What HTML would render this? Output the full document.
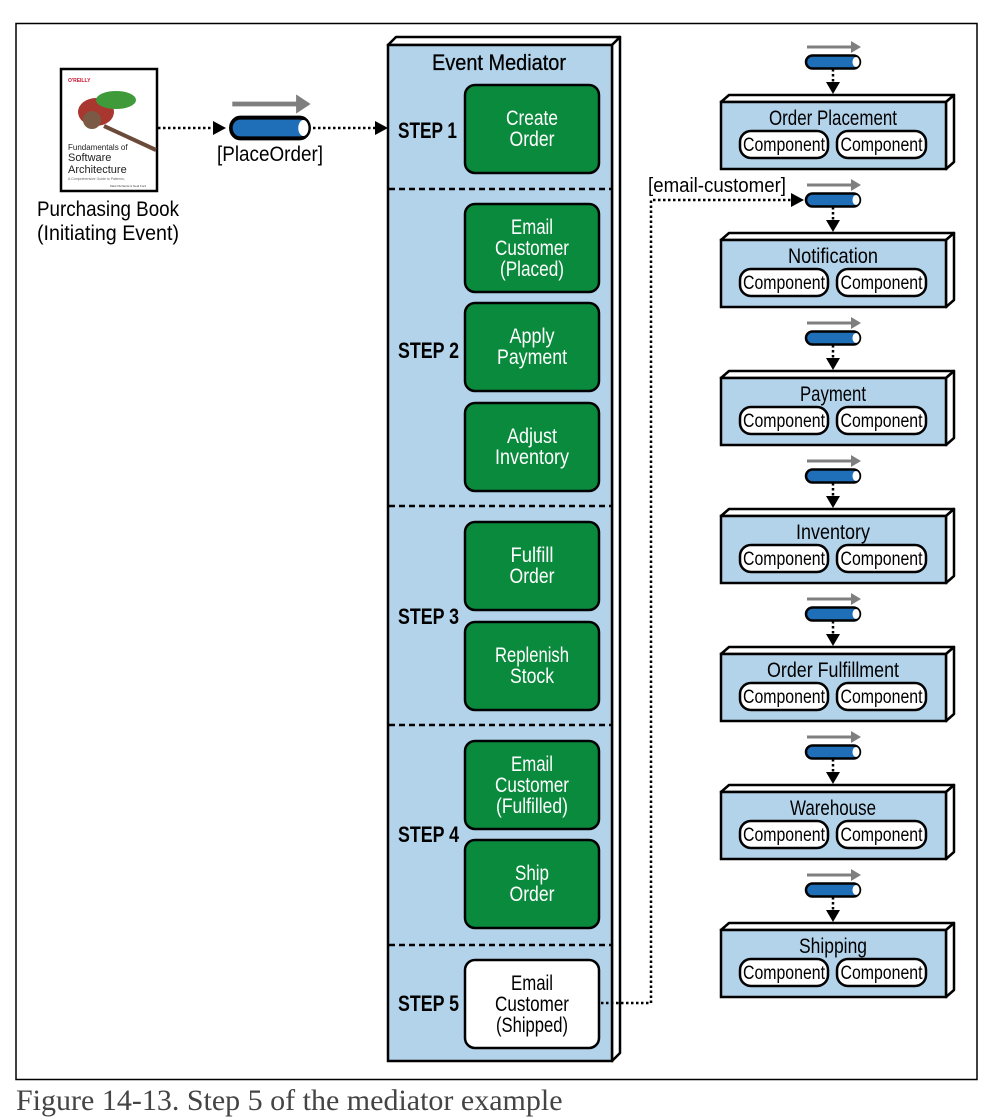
<!DOCTYPE html>
<html><head><meta charset="utf-8"><style>
html,body{margin:0;padding:0;background:#fff;overflow:hidden;width:987px;height:1094px}
svg{display:block}
text{font-family:"Liberation Sans",sans-serif}
</style></head><body>
<svg width="987" height="1094" viewBox="0 0 987 1094" xmlns="http://www.w3.org/2000/svg">
<defs>
<g id="q">
<line x1="-26" y1="-15" x2="20" y2="-15" stroke="#7f7f7f" stroke-width="3"/>
<polygon points="18,-21 28,-15 18,-9" fill="#7f7f7f"/>
<rect x="-27" y="-6.5" width="54" height="13" rx="6.5" fill="#1f6fb8" stroke="#000" stroke-width="2.5"/>
<ellipse cx="23" cy="0" rx="3.5" ry="5" fill="#fff"/>
</g>
</defs>
<rect x="16" y="23.5" width="961" height="1056" fill="none" stroke="#000" stroke-width="1.5"/>

<!-- book -->
<rect x="61" y="69" width="96" height="122" fill="#fff" stroke="#000" stroke-width="2.5"/>
<text x="68" y="82" font-size="5" fill="#c8102e" font-weight="bold">O'REILLY</text>
<ellipse cx="96" cy="112" rx="18" ry="14" fill="#a8372f"/>
<ellipse cx="116" cy="100" rx="20" ry="9" fill="#3f9b3a"/>
<ellipse cx="92" cy="120" rx="9" ry="9" fill="#7a5a44"/>
<line x1="104" y1="126" x2="156" y2="150" stroke="#6b4a3a" stroke-width="4"/>
<text x="68" y="150" font-size="8" fill="#222">Fundamentals of</text>
<text x="68" y="161" font-size="11" fill="#222">Software</text>
<text x="68" y="173" font-size="11" fill="#222">Architecture</text>
<text x="68" y="180" font-size="3.5" fill="#666">A Comprehensive Guide to Patterns,</text>
<text x="110" y="187" font-size="3" fill="#444">Mark Richards &amp; Neal Ford</text>
<text x="108" y="216" font-size="21" text-anchor="middle" textLength="142" lengthAdjust="spacingAndGlyphs">Purchasing Book</text>
<text x="108" y="240" font-size="21" text-anchor="middle" textLength="142" lengthAdjust="spacingAndGlyphs">(Initiating Event)</text>

<line x1="158" y1="128" x2="214" y2="128" stroke="#000" stroke-width="2.5" stroke-dasharray="2.5,2.5"/>
<polygon points="213,121 226,128 213,135" fill="#000"/>
<use href="#q" transform="translate(270 128) scale(1.45 1.6)"/>
<line x1="313" y1="128" x2="376" y2="128" stroke="#000" stroke-width="2.5" stroke-dasharray="2.5,2.5"/>
<polygon points="375,121 388,128 375,135" fill="#000"/>
<text x="270" y="161" font-size="21" text-anchor="middle" textLength="106" lengthAdjust="spacingAndGlyphs">[PlaceOrder]</text>

<!-- mediator -->
<polygon points="388,45 396,37 620,37 612,45" fill="#fff" stroke="#000" stroke-width="2.5" stroke-linejoin="round"/>
<polygon points="612,45 620,37 620,1053 612,1061" fill="#fff" stroke="#000" stroke-width="2.5" stroke-linejoin="round"/>
<rect x="388" y="45" width="224" height="1016" fill="#b3d3ea" stroke="#000" stroke-width="2.5"/>
<text x="499" y="70" font-size="22" text-anchor="middle" textLength="134" lengthAdjust="spacingAndGlyphs" stroke="#000" stroke-width="0.3">Event Mediator</text>
<g stroke="#000" stroke-width="2.5" stroke-dasharray="6,4">
<line x1="389" y1="189" x2="611" y2="189"/>
<line x1="389" y1="506" x2="611" y2="506"/>
<line x1="389" y1="725" x2="611" y2="725"/>
<line x1="389" y1="945" x2="611" y2="945"/>
</g>
<g font-size="22" font-weight="bold" text-anchor="start">
<text x="398" y="138" textLength="59" lengthAdjust="spacingAndGlyphs">STEP 1</text>
<text x="398" y="358" textLength="61" lengthAdjust="spacingAndGlyphs">STEP 2</text>
<text x="398" y="624" textLength="61" lengthAdjust="spacingAndGlyphs">STEP 3</text>
<text x="398" y="842" textLength="61" lengthAdjust="spacingAndGlyphs">STEP 4</text>
<text x="398" y="1011" textLength="61" lengthAdjust="spacingAndGlyphs">STEP 5</text>
</g>
<g fill="#0a8a3c" stroke="#000" stroke-width="2.5">
<rect x="465" y="85" width="134" height="88" rx="10"/>
<rect x="465" y="204" width="134" height="88" rx="10"/>
<rect x="465" y="303" width="134" height="88" rx="10"/>
<rect x="465" y="403" width="134" height="88" rx="10"/>
<rect x="465" y="522" width="134" height="88" rx="10"/>
<rect x="465" y="622" width="134" height="88" rx="10"/>
<rect x="465" y="741" width="134" height="88" rx="10"/>
<rect x="465" y="840" width="134" height="88" rx="10"/>
</g>
<rect x="465" y="960" width="134" height="88" rx="10" fill="#fff" stroke="#000" stroke-width="2.5"/>
<g font-size="21" text-anchor="middle" fill="#fff" lengthAdjust="spacingAndGlyphs">
<text x="532" y="125" textLength="52" lengthAdjust="spacingAndGlyphs">Create</text><text x="532" y="146" textLength="45" lengthAdjust="spacingAndGlyphs">Order</text>
<text x="532" y="234" textLength="42" lengthAdjust="spacingAndGlyphs">Email</text><text x="532" y="255" textLength="74" lengthAdjust="spacingAndGlyphs">Customer</text><text x="532" y="276" textLength="64" lengthAdjust="spacingAndGlyphs">(Placed)</text>
<text x="532" y="343" textLength="45" lengthAdjust="spacingAndGlyphs">Apply</text><text x="532" y="364" textLength="70" lengthAdjust="spacingAndGlyphs">Payment</text>
<text x="532" y="443" textLength="50" lengthAdjust="spacingAndGlyphs">Adjust</text><text x="532" y="464" textLength="74" lengthAdjust="spacingAndGlyphs">Inventory</text>
<text x="532" y="562" textLength="43" lengthAdjust="spacingAndGlyphs">Fulfill</text><text x="532" y="583" textLength="45" lengthAdjust="spacingAndGlyphs">Order</text>
<text x="532" y="662" textLength="74" lengthAdjust="spacingAndGlyphs">Replenish</text><text x="532" y="683" textLength="44" lengthAdjust="spacingAndGlyphs">Stock</text>
<text x="532" y="771" textLength="42" lengthAdjust="spacingAndGlyphs">Email</text><text x="532" y="792" textLength="74" lengthAdjust="spacingAndGlyphs">Customer</text><text x="532" y="813" textLength="72" lengthAdjust="spacingAndGlyphs">(Fulfilled)</text>
<text x="532" y="880" textLength="34" lengthAdjust="spacingAndGlyphs">Ship</text><text x="532" y="901" textLength="45" lengthAdjust="spacingAndGlyphs">Order</text>
</g>
<g font-size="21" text-anchor="middle" fill="#000">
<text x="532" y="990" textLength="42" lengthAdjust="spacingAndGlyphs">Email</text><text x="532" y="1011" textLength="74" lengthAdjust="spacingAndGlyphs">Customer</text><text x="532" y="1032" textLength="72" lengthAdjust="spacingAndGlyphs">(Shipped)</text>
</g>

<polyline points="601,1003 651,1003 651,200 792,200" fill="none" stroke="#000" stroke-width="2.5" stroke-dasharray="2.5,2.5"/>
<polygon points="791,193 804,200 791,207" fill="#000"/>
<text x="648" y="192" font-size="20" textLength="138" lengthAdjust="spacingAndGlyphs">[email-customer]</text>

<g id="svc"></g>
</svg>
<script>
var names=[["Order Placement",128],["Notification",90],["Payment",66],["Inventory",74],["Order Fulfillment",132],["Warehouse",86],["Shipping",68]];
var s="";
for(var i=0;i<7;i++){var T=102+138*i;
s+='<use href="#q" transform="translate(833 '+(T-40)+')"/>';
s+='<line x1="833" y1="'+(T-33)+'" x2="833" y2="'+(T-18)+'" stroke="#000" stroke-width="2.5" stroke-dasharray="2.5,2.5"/>';
s+='<polygon points="826,'+(T-20)+' 840,'+(T-20)+' 833,'+(T-8)+'" fill="#000"/>';
s+='<polygon points="721,'+T+' 729,'+(T-7)+' 954,'+(T-7)+' 946,'+T+'" fill="#fff" stroke="#000" stroke-width="2.5" stroke-linejoin="round"/>';
s+='<polygon points="946,'+T+' 954,'+(T-7)+' 954,'+(T+60)+' 946,'+(T+67)+'" fill="#fff" stroke="#000" stroke-width="2.5" stroke-linejoin="round"/>';
s+='<rect x="721" y="'+T+'" width="225" height="67" fill="#b3d3ea" stroke="#000" stroke-width="2.5"/>';
s+='<text x="833" y="'+(T+23)+'" font-size="21" text-anchor="middle" textLength="'+names[i][1]+'" lengthAdjust="spacingAndGlyphs">'+names[i][0]+'</text>';
s+='<rect x="740" y="'+(T+29)+'" width="88" height="27" rx="11" fill="#fff" stroke="#000" stroke-width="2.5"/>';
s+='<rect x="837" y="'+(T+29)+'" width="89" height="27" rx="11" fill="#fff" stroke="#000" stroke-width="2.5"/>';
s+='<text x="784" y="'+(T+49)+'" font-size="19" text-anchor="middle" textLength="82" lengthAdjust="spacingAndGlyphs">Component</text>';
s+='<text x="881.5" y="'+(T+49)+'" font-size="19" text-anchor="middle" textLength="82" lengthAdjust="spacingAndGlyphs">Component</text>';
}
document.getElementById("svc").innerHTML=s;
</script>
<div style="position:absolute;left:16px;top:1084px;font-family:'Liberation Serif',serif;font-size:30px;color:#444;white-space:nowrap">Figure 14-13. Step 5 of the mediator example</div>
</body></html>
